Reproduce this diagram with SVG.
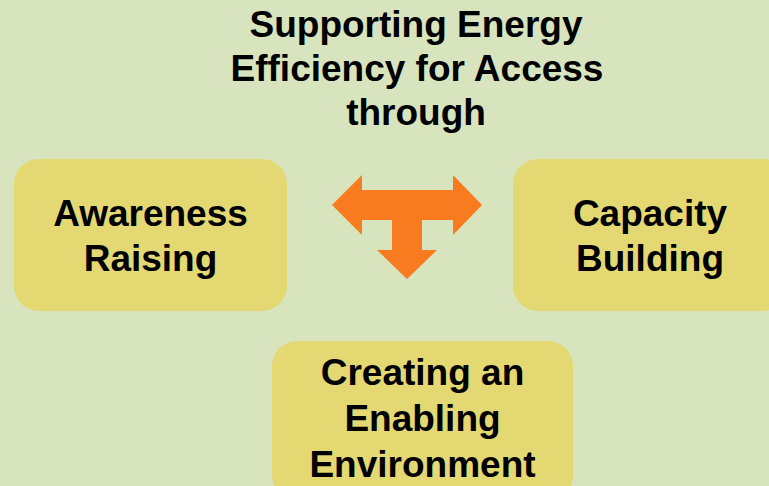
<svg xmlns="http://www.w3.org/2000/svg" width="769" height="486" viewBox="0 0 769 486">
  <style>
    .box { fill: #E4D873; }
    .t { font-family: "Liberation Sans", Arial, sans-serif; font-weight: bold; font-size: 37px; fill: #000; text-anchor: middle; }
    .arrow { fill: #F87B1F; }
  </style>
  <rect x="0" y="0" width="769" height="486" fill="#D7E4BD"/>
  <g id="title">
    <text class="t" x="416" y="37">Supporting Energy</text>
    <text class="t" x="417" y="81">Efficiency for Access</text>
    <text class="t" x="416" y="125">through</text>
  </g>
  <g id="connectors">
    <polygon class="arrow" points="332,205 362,175 362,190 453,190 453,175 482,205 453,235 453,220 422,220 422,250 437,250 407,279 377,250 392,250 392,220 362,220 362,235"/>
  </g>
  <g id="awareness">
    <rect class="box" x="14" y="159" width="273" height="152" rx="25" ry="25"/>
    <text class="t" x="150.5" y="226">Awareness</text>
    <text class="t" x="150.5" y="271">Raising</text>
  </g>
  <g id="capacity">
    <rect class="box" x="513" y="159" width="274" height="152" rx="25" ry="25"/>
    <text class="t" x="650" y="226">Capacity</text>
    <text class="t" x="650" y="271">Building</text>
  </g>
  <g id="enabling">
    <rect class="box" x="272" y="341" width="301" height="160" rx="25" ry="25"/>
    <text class="t" x="422.5" y="385">Creating an</text>
    <text class="t" x="422.5" y="431">Enabling</text>
    <text class="t" x="422.5" y="477">Environment</text>
  </g>
</svg>
